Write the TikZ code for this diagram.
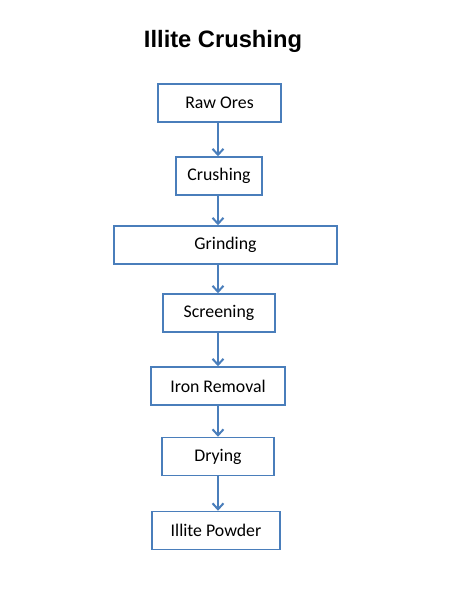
\documentclass[tikz,border=0pt]{standalone}
\usepackage{fontspec}
\setmainfont{Carlito}
\newfontfamily\titlefont{Liberation Sans}
\usetikzlibrary{arrows.meta}
\definecolor{flowblue}{HTML}{4A7EBB}
\tikzset{
  stepbox/.style={draw=flowblue, line width=1.5pt, fill=white, inner sep=0pt,
    minimum height=38pt, font=\fontsize{17.8}{20}\selectfont},
  flowarrow/.style={draw=flowblue, line width=2pt, -{Straight Barb[length=6pt,width=11pt]}}
}
\begin{document}
\begin{tikzpicture}[x=1pt, y=-1pt]
      \useasboundingbox[fill=white] (0, 0) rectangle (450, 600);
      \node (title) at (223, 41.5){\titlefont\bfseries\fontsize{23.7}{27}\selectfont Illite Crushing};

      \coordinate (spine) at (218, 0);
      \node[stepbox, minimum width=123pt] (raw) at (219.5, 103){Raw Ores};
      \node[stepbox, minimum width=86pt] (crush) at (219, 176){Crushing};
      \node[stepbox, minimum width=223pt] (grind) at (225.5, 245){Grinding};
      \node[stepbox, minimum width=112pt] (screen) at (219, 313){Screening};
      \node[stepbox, minimum width=134pt] (iron) at (218, 386){Iron Removal};
      \node[stepbox, minimum width=112pt] (dry) at (218, 456.5){Drying};
      \node[stepbox, minimum width=128pt] (powder) at (216, 530.5){Illite Powder};

      \draw[flowarrow] (raw.south -| spine) to (crush.north -| spine);
      \draw[flowarrow] (crush.south -| spine) to (grind.north -| spine);
      \draw[flowarrow] (grind.south -| spine) to (screen.north -| spine);
      \draw[flowarrow] (screen.south -| spine) to (iron.north -| spine);
      \draw[flowarrow] (iron.south -| spine) to (dry.north -| spine);
      \draw[flowarrow] (dry.south -| spine) to (powder.north -| spine);
    \end{tikzpicture}
\end{document}
